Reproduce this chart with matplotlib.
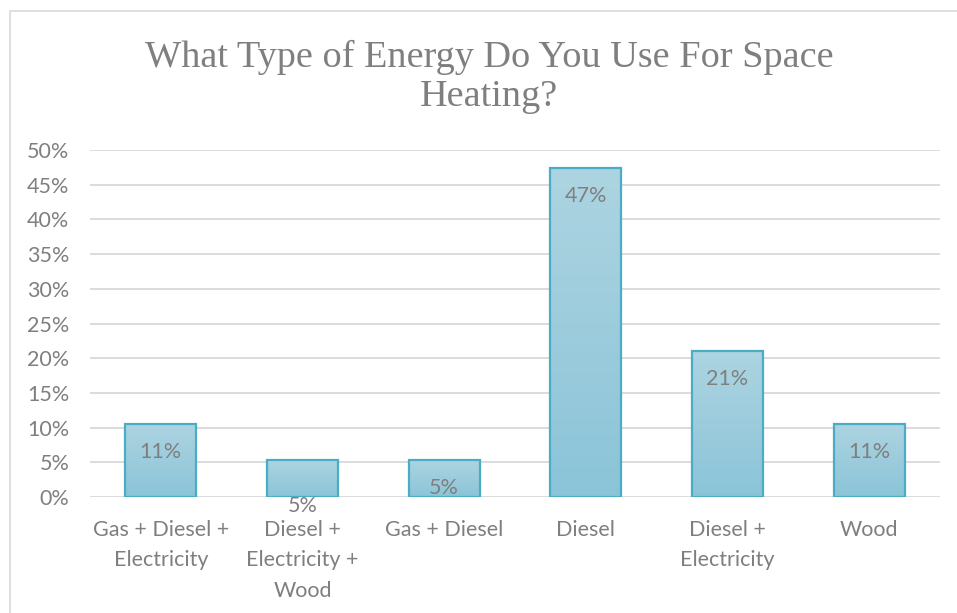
import numpy as np
import matplotlib
matplotlib.use("Agg")
import matplotlib.pyplot as plt
from matplotlib.colors import LinearSegmentedColormap
from matplotlib.patches import Rectangle

categories = ["Gas + Diesel +\nElectricity", "Diesel +\nElectricity +\nWood", "Gas + Diesel",
              "Diesel", "Diesel +\nElectricity", "Wood"]
shares = [0.1053, 0.0526, 0.0526, 0.4737, 0.2105, 0.1053]
y_ticks = [0.0, 0.05, 0.10, 0.15, 0.20, 0.25, 0.30, 0.35, 0.40, 0.45, 0.50]
title = "What Type of Energy Do You Use For Space\nHeating?"

TEXT = "#7f7f7f"
GRID = "#d9d9d9"
EDGE = "#4bacc6"
TOP_C = "#add4e1"
BOT_C = "#8bc4d8"
sans = ["Lato", "DejaVu Sans"]
FS = 15.5

fig = plt.figure(figsize=(9.57, 6.13), dpi=100)
fig.patch.set_facecolor("white")

# light frame around the chart area
fig.patches.append(Rectangle((10 / 957, -0.1), 1.1, 1 - 11 / 613 + 0.1, transform=fig.transFigure,
                             fill=False, edgecolor=GRID, linewidth=1.2, zorder=0))

ax = fig.add_axes([90 / 957, 1 - 497 / 613, 850 / 957, 347 / 613])
x = np.arange(len(categories))
width = 0.5
bars = ax.bar(x, shares, width=width, color="none", edgecolor=EDGE, linewidth=1.6, zorder=3)

cmap = LinearSegmentedColormap.from_list("fill", [BOT_C, TOP_C])
grad = np.linspace(0, 1, 256).reshape(-1, 1)
for b in bars:
    x0, y0 = b.get_x(), b.get_y()
    w, h = b.get_width(), b.get_height()
    im = ax.imshow(grad, extent=(x0, x0 + w, y0, y0 + h), origin="lower", cmap=cmap,
                   aspect="auto", zorder=2, interpolation="bicubic")
    im.set_clip_path(Rectangle((x0, y0), w, h, transform=ax.transData))

# value labels near the top of each bar
label_offsets = [-20, -33, -20, -20, -20, -20]
for xi, v, off in zip(x, shares, label_offsets):
    ax.annotate(f"{v:.0%}", (xi, v), xytext=(0, off), textcoords="offset points",
                ha="center", va="center", fontsize=FS, color=TEXT, family=sans, zorder=4)

ax.set_xlim(-0.5, len(categories) - 0.5)
ax.set_ylim(0, 0.5)
ax.set_yticks(y_ticks)
ax.set_yticklabels([f"{t:.0%}" for t in y_ticks], family=sans, fontsize=FS, color=TEXT)
ax.set_xticks(x)
ax.set_xticklabels(categories, family=sans, fontsize=FS, color=TEXT, linespacing=1.65, va="top")
ax.tick_params(axis="both", length=0)
ax.tick_params(axis="y", pad=15)
ax.tick_params(axis="x", pad=16.5)
ax.grid(axis="y", color=GRID, linewidth=1.3, zorder=1)
ax.set_axisbelow(True)
for s in ax.spines.values():
    s.set_visible(False)

fig.text(489 / 957, 1 - 77 / 613, title, ha="center", va="center", fontsize=27.5, color=TEXT,
         family=["Liberation Serif", "DejaVu Serif"], linespacing=1.2)

fig.savefig("out.png", dpi=100)
